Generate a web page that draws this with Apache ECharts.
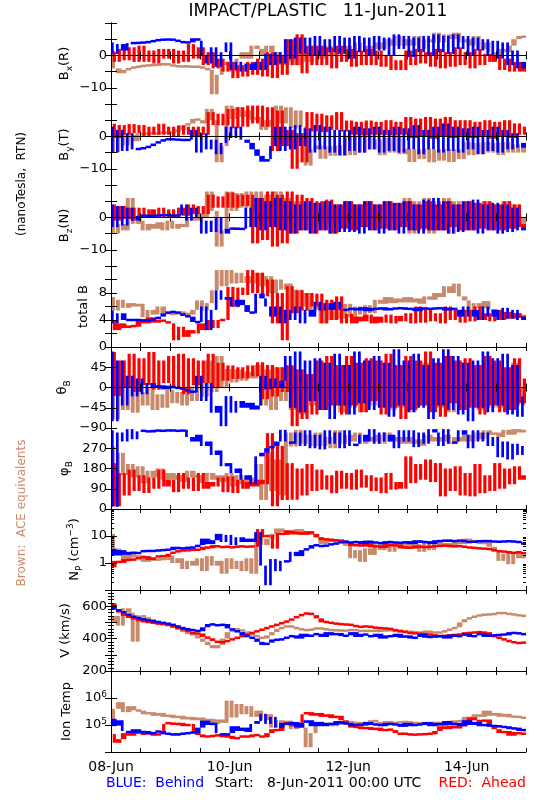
<!DOCTYPE html>
<html><head><meta charset="utf-8">
<script src="https://cdn.jsdelivr.net/npm/echarts@6/dist/echarts.min.js"></script>
<style>html,body{margin:0;padding:0;background:#fff}#c{width:550px;height:800px}</style>
</head><body><div id="c"></div>
<script>
// time in hours since 8-Jun-2011 00:00 UTC
const hours = [0,2,4,6,8,10,12,14,16,18,20,22,24,26,28,30,32,34,36,38,40,42,44,46,48,50,52,54,56,58,60,62,64,66,68,70,72,74,76,78,80,82,84,86,88,90,92,94,96,98,100,102,104,106,108,110,112,114,116,118,120,122,124,126,128,130,132,134,136,138,140,142,144,146,148,150,152,154,156,158,160,162,164,166,168];
const dateTicks = [0,48,96,144];
const dateLabels = ['08-Jun','10-Jun','12-Jun','14-Jun'];

// Bx (R)
const bxBlue = [4,0.5,3.5,1.5,3.8,3.8, 3.9,4.0,4.2,4.6,4.8,4.9, 4.9,4.8,4.2,4.0,4.0,5.3, 4.5,0,-2.5,2.5,-3.5,1.0, 4.0,-4.5,-2,-5,-2.5,-4.5, -2,-4.5,0.5,-3,1,-2.5, 5,-1,5.5,0.5,5.5,0, 6,0,5,1,6,0.5, 5.5,-1,6,1,5.5,0, 6,1.5,5.5,0,6.5,2, 6,-0.5,5.5,1,6,0, 6.5,1,6,0.5,6.5,2, 6,0,5.5,1.5,5,0, 4.5,-1,4,-3,1.5,-4, -2];
const bxRed = [1,-2,2,-1.5,2.5,-2, 3,-2,1.5,-2.5,2,-1, 2,-2.5,1.5,-2,3.5,-1, 2.5,-3,1,-4,-1,-5, -2,-7,-3,-6.5,-2,-6, -1,-6.5,1,-7,0,-6, 5,-3,6.5,-5.5,3,-3, 3,-3,2.5,-4,3,-2, 2,-3.5,1.5,-3,2,-3, 1.5,-3.5,0,-4.5,-1.5,-4.5, 1.5,-3,2,-2.5,1,-3.5, 2,-4,1,-3.5,2.5,-3, 1,-4,2,-3,0.5,-2, 0,-4.5,-1,-5,-2,-5, -3.5];
const bxBrown = [1.5,-4,-5.5,-4.5,-4,-3.5, -3.5,-3,-3.2,-2.8,-3,-2.5, -3,-3.2,-3.5,-3.3,-3.5,-3.5, -3.5,-4,-4.5,-12,-6,-3, -2,-5,-1,1,-1,3, 2,0,3,1,-1,-3, -2,0,-3,1,-2,0, 2,-1,3,0,2,1, 3,0,4,1,3,2, 4,2,5,3,6,3, 5,3,6,2,5,4, 7,4,6.5,5,7,4, 5,3,6,2,4,1, 0,2,1,3,5,6, 5.5];

// By (T)
const byBlue = [3,-5,2,-4.5,1,-4, -3.8,-3.5,-3,-2.2,-1.5,-1, -0.8,-1,-1,-1.2,-1,2, -5,1,-4,-1,-5.5,-2, 3,-0.5,3,-1,-2,-4, -6,-7.8,-7,-3,3,-4.5, 3,-4,3.5,-3,2.5,-5, 3.5,-4,3,-5,2,-5.8, 2,-4.5,3,-5,2.5,-4, 3,-5,2,-4.5,3,-5, 2.5,-4,3.5,-5.5,2,-4, 3,-5,4,-4.5,3,-5, 2.5,-4,3,-5.5,2,-4.5, 3,-5,2,-4,1,-3.5, -2];
const byRed = [3.9,-0.5,3.5,0.5,3.8,1, 3.5,0,3,0.5,3.9,0.5, 3,0,3.4,0.5,3,-0.2, 3,0.5,7.5,3.5,7,3.4, 8.5,2.5,9,3,9.5,4, 9.5,3,9,-4.5,8,-3, 2,-10,1,-8,7.5,1.5, 7,1.3,6.5,2,7.5,1.5, 4.9,0.5,4.5,0.3,4.9,0.5, 4.5,0.5,5,0.3,4.5,0.5, 6,-0.5,5.5,0,6,-0.7, 5.5,0,6,-0.5,5,0, 5,-0.5,4.5,0,5,-0.7, 4.5,0,5,-0.5,4,0.5, 3];
const byBrown = [1.3,-4.8,1,-2.8,0.5,-1.5, 1,0.5,1.2,0.8,1,1.2, 1,1.5,2,3.4,4,5.4, 5,4,8.5,5,-8,-3, 9.5,5.4,9,6,8,5, 6,2,5,3,9.5,4, 9,2.4,8,3,-9,-4, -2.8,-6.9,-3,-6,-2.8,-6, 0.3,-5.8,0,-5,0.3,-4, -1,-5.8,-0.5,-5,0,-5.5, -3.8,-7.9,-4,-7,-3.8,-8, -4,-7.5,-3.8,-7.9,-4,-7, -1.7,-5.8,-2,-5.5,-1.7,-5, -2,-5.8,-1.7,-5,-2.5,-5, -3];

// Bz (N)
const bzBlue = [4,-3,3.5,-2.5,3,-1, 0.5,0.6,0.4,0.5,0.6,0.8, 0.6,0.5,0.7,4,-1,3, 0,-5,-1,-4.5,0,-5, -3.5,-3.4,-3.6,-3.5,3,-3, 6,-4,5,-3,6,-4, 5,-5,4,-4,5,-5, 4.5,-4,5,-5,4,-4.5, 5,-4.5,4,-5,5,-4, 4,-5,5,-4,4.5,-5, 5,-4,4,-5,5.5,-4, 6,-4,5,-5,4,-4.5, 5,-4,5.5,-5,4,-4, 4.5,-5,4,-4.5,3,-4, -3];
const bzRed = [4,-1,3.5,-0.5,3,-1, 3,0,2.5,0.5,3,0, 2.5,0,3,0.5,4,1, 3.5,1,7,3,6.5,3, 7.7,3,7,3.5,7,-8, 6,-7,8,-9,7,-8, 8,-5,7,-4,6,-5, 5,-4,5.5,-5,4,-3.5, 5,-4,4,-3,5,-4, 4,-3.5,5,-4,4.5,-3, 5,-4,4,-3.5,5,-4, 4,-4,5,-3,4,-4, 5,-4,4.5,-3.5,5,-4, 4,-4,5,-3.5,4,-3, -2];
const bzBrown = [0,-5,-2,-4,6,-2, -1,-4,-2,-3.5,-1.5,-4, -1,-3.5,-2,-3,0,-1, 1,0,8,2,-9,-4, 8,2,7.5,3,8,2, 8,0,7,1,8,0, 6,0,5,-1,4,-2, 4,-2,3.5,-2,4,-2, 5,-3,4,-2,5,-3, 4,-3,5,-2,4,-3, 6,-5,5,-4,6,-5, 5,-4,6,-5,5,-4, 5,-3,4,-3,5,-2, 4,-3,5,-3,4,-2, 0];

// total B
const btBlue = [5.4,3.5,5,4,4,4, 4,3.9,4,4.1,4.5,5, 5.2,5.2,5,4.6,4.5,3.7, 3.7,6,2.5,5.5,8.4,7, 7.4,6,7,6.2,5.2,5, 7.9,7.2,6,4.5,6,3.5, 5.5,4,6,3.5,5.5,4.5, 6.7,5.4,6.5,5.5,6.7,5.5, 5.5,5.8,5.4,5.9,5.3,5.8, 5.5,5.9,5.4,5.8,5.6,5.9, 5.5,5.8,5.3,5.9,5.5,5.8, 5.6,5.9,5.4,5.8,5.5,4.5, 6,4.5,5.5,4,6,4.5, 5.5,4,5.8,4.2,5.5,4, 4.5];
const btRed = [4,2.5,3.5,2.8,3.2,3, 4,3.5,4.4,3.6,4,3.8, 3.5,1,3,1.5,2.5,2, 3.5,2.5,4,2.8,4,4, 8.9,5.9,8.8,7.7,11.4,8, 11,7.5,10,3.5,8,1, 9,5,8.4,5.4,8,6, 7.9,3.5,7,4,7.5,3.5, 4.9,3.5,4.5,3.8,4.8,3.5, 4.5,3.6,4.8,3.5,4.6,3.8, 5,3.5,6,3.6,5.5,3.8, 5,3.5,6,4,5.5,3.6, 5.5,3.8,6,4,5,3.8, 5.5,4,5.2,4.2,5,4.3, 4.5];
const btBrown = [7.4,5.4,7,5.8,6.5,6, 6.4,4.4,5.5,4.8,6,5, 5,4.8,5.2,5,4.8,5.5, 6.9,5.4,6.5,8.4,11.4,9, 11.4,9.4,11,9.5,10.5,9.4, 11,9,10.5,8,10,8.5, 9.4,5.4,8.5,6,8,5.5, 6.4,3.5,6,4,5.5,4.2, 6.4,4.4,6,4.8,6.2,5, 7,6.4,7.4,6.5,7.2,6.6, 7.4,6.6,7.2,6.4,7.5,7, 8,7.4,9,8,9.4,7.5, 6.9,5.4,6.5,5.8,6.8,5.5, 5.4,4.5,5.2,4.6,5,4.4, 4.8];

// theta_B
const thBlue = [80,-75,60,-40,26,-20, 20,-15,10,0,5,-4, 4,-2,0,-5,-8,-11, 26,-30,10,-56,-41,-86, -19,-56,-30,-45,-34,-49, -40,26,-4,20,0,15, 70,-45,80,-55,60,-30, 65,-50,55,-70,75,-40, 50,-60,80,-35,60,-50, 70,-45,55,-65,85,-40, 60,-55,75,-45,50,-70, 65,-40,85,-50,70,-60, 55,-75,60,-45,80,-55, 65,-40,75,-60,50,-65, -20];
const thRed = [79,-19,60,0,75,-10, 65,5,79,-5,60,10, 70,0,75,-15,65,5, 60,10,75,0,55,15, 49,19,45,20,49,25, 56,-26,50,-20,45,-10, 49,-86,40,-70,30,-60, 60,-50,70,-40,50,-60, 70,-40,55,-55,65,-30, 60,-60,75,-45,50,-70, 70,-50,60,-40,80,-55, 55,-65,70,-35,60,-50, 65,-45,50,-60,70,-40, 60,-55,45,-50,65,-35, 20];
const thBrown = [19,-71,0,-50,4,-56, -10,-40,0,-50,-15,-45, -5,-35,-10,-40,0,-30, 10,-20,60,-10,70,0, 41,11,40,15,35,20, 50,-40,40,-50,45,-30, 50,-50,40,-60,30,-40, 45,-50,55,-40,40,-55, 50,-45,40,-55,45,-40, 55,-40,45,-50,40,-45, 50,-55,45,-40,55,-50, 40,-45,50,-55,45,-40, 55,-40,50,-50,45,-45, 50,-45,40,-50,55,-40, 0];

// phi_B
const phBlue = [350,10,340,300,355,310, 345,350,340,352,345,350, 348,350,345,352,320,300, 330,280,300,240,260,190, 204,160,180,130,150,110, 234,250,270,280,300,352, 300,290,340,280,350,270, 330,265,350,290,340,270, 350,280,290,330,300,355, 290,340,300,330,270,350, 300,350,275,340,290,355, 340,280,355,290,300,350, 330,270,350,300,340,280, 320,230,300,220,290,240, 280];
const phRed = [204,12,160,60,175,80, 150,71,140,90,175,100, 130,75,160,90,140,80, 160,90,120,100,140,75, 145,71,130,90,120,100, 130,110,337,12,280,40, 204,41,180,60,200,80, 175,86,150,70,170,90, 160,86,175,95,150,80, 140,70,160,86,120,90, 234,115,200,130,220,120, 204,56,180,80,190,60, 160,56,200,70,150,80, 204,90,180,110,190,130, 150];
const phBrown = [278,130,250,150,200,140, 190,115,170,140,180,130, 160,130,150,120,170,140, 150,115,160,130,150,120, 160,100,150,110,140,120, 200,40,250,80,220,60, 340,278,352,290,330,280, 340,280,320,270,350,290, 330,300,340,290,320,300, 330,290,340,300,320,290, 320,290,310,280,330,300, 320,300,330,290,320,300, 330,300,340,310,350,330, 340,320,352,330,355,340, 352];

// N_P (cm^-3)
const npBlue = [3.4,1.9,3,2,2.6,2.2, 2.5,3,2.6,3,2.8,3.2, 3,4,3.2,3.8,3.5,4, 4.6,8,5,7,12,6, 11,4.6,9,6,8,6, 14,0.8,0.15,1.4,0.5,1.2, 1.1,2.6,1.8,3,3.4,4.6, 4.5,4,4.8,5,5.5,6.5, 6,5.5,6.5,5,6.8,5.5, 6,5,6.5,5.5,6,5.2, 6.5,5,7,5.5,6.5,5, 7,6,7.5,6,7,6.5, 6.5,5.5,6.8,6,7,6, 6.5,5.8,6.8,6,6.5,5.5, 5];
const npRed = [0.7,1.2,1.0,1.4,1.2,1.5, 1.5,1.8,1.3,1.6,1.9,1.7, 2.2,2.6,2.8,3,2.9,3.2, 3,4,3.5,4.6,3.8,4, 4,3.6,4.5,3.8,4.2,4, 18,9,11,3.4,13,11, 16,12,14,11,15,12, 9,7,8,6.5,7.5,6, 5.5,4.2,5,4,5.5,3.8, 4.5,3.6,5,4.2,4.8,3.5, 4,3.4,4.5,3.6,4.2,3.8, 4.6,4,4.8,3.8,4.5,4, 4,3.5,3.8,3.2,3.6,3, 3,2.5,2.8,2.2,2.6,2.4, 2.2];
const npBrown = [12,3.4,2,1.4,2.5,1.6, 1.9,1.1,1.6,1.2,1.5,1.3, 1.9,1,1.5,0.6,1.2,0.8, 1.5,0.5,1.8,0.8,1.2,0.4, 1.5,0.6,1.2,0.5,1.5,0.4, 11,4.6,8,12,19,14, 16,11,18,12,15,11, 9,5,8,6,7,5, 4.6,1.5,3,1.1,3.5,2, 5,3,6,2.6,5.5,3.5, 6,4,5,2.6,5.5,3, 6,4.5,5.5,4,7,5, 8,6,7,5,6,4, 2.6,1.2,2.2,0.9,2.5,1.5, 2];

// V (km/s)
const vBlue = [607,580,570,555,540,530, 525,515,510,505,500,494, 490,480,470,460,455,450, 445,470,490,485,480,490, 463,450,440,422,410,400, 380,360,375,395,390,400, 410,420,400,430,410,425, 430,410,440,420,435,415, 420,440,410,430,420,410, 430,400,420,410,430,405, 420,400,410,430,405,415, 410,420,400,425,410,420, 430,410,420,435,410,425, 415,430,420,440,430,435, 420];
const vRed = [618,580,560,540,530,520, 510,505,500,495,490,488, 480,470,460,455,440,430, 432,410,402,385,375,380, 390,400,410,420,430,440, 450,460,470,480,490,500, 510,525,540,550,560,545, 525,500,505,490,495,484, 490,480,475,470,480,465, 470,460,465,455,450,445, 440,430,435,425,430,420, 420,410,425,415,430,420, 440,430,445,435,440,420, 410,400,390,380,375,370, 380];
const vBrown = [500,540,480,587,560,381, 545,530,520,505,495,490, 480,470,455,440,430,420, 401,380,360,340,360,400, 440,460,455,445,430,420, 410,400,420,440,460,470, 480,470,460,455,450,460, 465,460,455,450,452,448, 450,455,450,445,450,445, 450,445,455,448,445,440, 440,445,435,440,445,440, 435,440,450,460,470,500, 520,530,540,545,550,548, 555,560,555,550,548,540, 540];

// Ion Temp (K)
const tiBlue = [1.7e5,0.95e5,1.5e5,0.6e5,0.5e5,0.7e5, 0.5e5,0.6e5,0.45e5,0.55e5,0.6e5,0.45e5, 0.5e5,0.4e5,0.5e5,0.45e5,0.55e5,0.5e5, 0.8e5,1.45e5,1.0e5,1.2e5,0.5e5,0.4e5, 0.5e5,0.9e5,0.6e5,0.8e5,0.55e5,1.1e5, 1.4e5,2.6e5,1.1e5,2.0e5,0.8e5,1.2e5, 1.0e5,1.3e5,0.8e5,1.2e5,1.5e5,0.9e5, 1.3e5,0.9e5,1.2e5,1.0e5,1.4e5,1.1e5, 1.2e5,0.9e5,1.1e5,0.95e5,1.3e5,1.0e5, 1.1e5,0.9e5,1.2e5,1.0e5,1.1e5,0.85e5, 1.2e5,0.9e5,1.1e5,1.0e5,1.3e5,0.9e5, 1.2e5,0.95e5,1.4e5,1.0e5,1.2e5,0.9e5, 1.5e5,1.0e5,1.3e5,0.9e5,1.1e5,0.85e5, 1.0e5,0.8e5,0.9e5,0.7e5,0.8e5,0.6e5, 0.7e5];
const tiRed = [0.46e5,0.22e5,0.3e5,0.5e5,0.4e5,0.55e5, 0.5e5,0.45e5,0.55e5,0.4e5,0.5e5,1.1e5, 1.25e5,1.0e5,1.2e5,0.9e5,1.1e5,0.5e5, 0.45e5,0.35e5,0.4e5,0.38e5,0.45e5,0.35e5, 0.4e5,0.3e5,0.35e5,0.4e5,0.35e5,0.45e5, 0.4e5,0.35e5,0.5e5,0.7e5,0.6e5,1.0e5, 1.3e5,0.9e5,1.2e5,2.5e5,3e5,2.2e5, 2.8e5,2.0e5,2.5e5,1.8e5,2.2e5,1.5e5, 1.1e5,0.8e5,0.9e5,0.7e5,0.85e5,0.65e5, 0.8e5,0.6e5,0.7e5,0.65e5,0.5e5,0.45e5, 0.5e5,0.4e5,0.48e5,0.42e5,0.5e5,0.45e5, 0.6e5,0.9e5,0.7e5,0.95e5,0.75e5,0.9e5, 1.1e5,1.9e5,1.5e5,1.3e5,1.6e5,1.0e5, 0.7e5,0.5e5,0.6e5,0.4e5,0.55e5,0.45e5, 0.5e5];
const tiBrown = [0.9e5,4e5,7e5,3e5,5e5,3.5e5, 3.4e5,2.5e5,3e5,2.2e5,2.8e5,2e5, 2.4e5,1.8e5,2.2e5,1.6e5,2e5,1.5e5, 1.9e5,1.2e5,1.7e5,1.1e5,1.6e5,1.2e5, 8e5,1.9e5,6e5,2.5e5,5e5,2e5, 3.4e5,1.5e5,2.5e5,0.8e5,1.5e5,1.0e5, 1.45e5,0.7e5,1.2e5,0.8e5,0.15e5,0.5e5, 1.3e5,1.0e5,1.2e5,0.9e5,1.3e5,1.0e5, 1.4e5,1.1e5,1.3e5,1.0e5,1.2e5,1.5e5, 1.3e5,1.0e5,1.4e5,1.1e5,1.3e5,1.2e5, 1.4e5,1.1e5,1.3e5,1.0e5,1.2e5,1.1e5, 1.3e5,1.1e5,1.4e5,1.2e5,1.5e5,1.3e5, 2.0e5,1.7e5,2.5e5,2.0e5,3.4e5,2.2e5, 2.8e5,2.0e5,2.6e5,1.9e5,2.2e5,1.8e5, 1.9e5];

// axis tick labels
const bLabels = [-10, 0];
const btLabels = [0, 4, 8];
const thLabels = [-90, -45, 0, 45];
const phLabels = [0, 90, 180, 270];
const npLabels = [1, 10];
const vLabels = [200, 400, 600];
const tiLabels = [1e5, 1e6];
const npMajor = [0.1, 1, 10, 100];
const npMinor = [0.2,0.3,0.4,0.5,0.6,0.7,0.8,0.9,2,3,4,5,6,7,8,9,20,30,40,50,60,70,80,90];
const tiMajor = [1e4, 1e5, 1e6, 1e7];

const BLUE = '#0000ff', RED = '#ff0000', BROWN = '#c98a6c';
const FONT = 'DejaVu Sans';

const rich = {
  a: {fontSize: 13, lineHeight: 18, fontFamily: FONT, color: '#000'},
  s: {fontSize: 9, lineHeight: 9, verticalAlign: 'bottom', fontFamily: FONT, color: '#000'},
  p: {fontSize: 9, lineHeight: 9, verticalAlign: 'top', fontFamily: FONT, color: '#000'}
};

const panels = [
  {name: '{a|B}{s|x}{a|(R)}', min: -15, max: 10, interval: 5, labels: bLabels, zero: true, gap: 37, d: [bxBrown, bxRed, bxBlue]},
  {name: '{a|B}{s|y}{a|(T)}', min: -15, max: 10, interval: 5, labels: bLabels, zero: true, gap: 37, d: [byBrown, byRed, byBlue]},
  {name: '{a|B}{s|z}{a|(N)}', min: -15, max: 10, interval: 5, labels: bLabels, zero: true, gap: 37, d: [bzBrown, bzRed, bzBlue]},
  {name: '{a|total B}', min: 0, max: 12, interval: 2, labels: btLabels, gap: 18, d: [btBrown, btRed, btBlue]},
  {name: '{a|θ}{s|B}', min: -90, max: 90, interval: 45, labels: thLabels, gap: 39, d: [thBrown, thRed, thBlue]},
  {name: '{a|φ}{s|B}', min: 0, max: 360, interval: 90, labels: phLabels, gap: 37, d: [phBrown, phRed, phBlue]},
  {name: '{a|N}{s|P}{a| (cm}{p|−3}{a|)}', log: true, min: 0.1, max: 100, labels: npLabels, major: npMajor, minor: npMinor, gap: 27, d: [npBrown, npRed, npBlue]},
  {name: '{a|V (km/s)}', min: 200, max: 700, interval: 100, labels: vLabels, vminor: true, gap: 36, d: [vBrown, vRed, vBlue]},
  {name: '{a|Ion Temp}', log: true, pow: true, min: 1e4, max: 1e7, labels: tiLabels, major: tiMajor, gap: 35, d: [tiBrown, tiRed, tiBlue]}
];

const TOP = 23, H = 81, LEFT = 111, W = 415;
const grids = [], xAxes = [], yAxes = [], series = [];
const line = {show: true, lineStyle: {color: '#000', width: 1}};

function fmt(v, p) {
  if (p.pow) return '{b|10}{p|' + Math.round(Math.log10(v)) + '}';
  return v < 0 ? '−' + Math.abs(v) : String(v);
}

// each 2-hour step drawn as a filled span between consecutive samples (dense-noise look);
// tall (noisy) spans only cover part of the step so the other spacecraft shows through.
function blocks(arr, color, xb, yl, z, f0, f1) {
  return {
    type: 'custom', xAxisIndex: xb, yAxisIndex: yl, silent: true, animation: false, z: z,
    data: hours.slice(0, -1).map((h, j) => [h, arr[j], hours[j + 1], arr[j + 1]]),
    encode: {x: [0, 2], y: [1, 3]},
    renderItem: function (params, api) {
      const a = api.coord([api.value(0), api.value(1)]);
      const b = api.coord([api.value(2), api.value(3)]);
      let y0 = Math.min(a[1], b[1]), y1 = Math.max(a[1], b[1]);
      if (y1 - y0 < 2.5) { const m = (y0 + y1) / 2; y0 = m - 1.25; y1 = m + 1.25; }
      const dx = b[0] - a[0];
      let x0 = a[0], w = dx + 0.6;
      if (y1 - y0 > 7) { x0 = a[0] + dx * f0; w = dx * (f1 - f0); }
      const cs = params.coordSys;
      const shape = echarts.graphic.clipRectByRect(
        {x: x0, y: y0, width: w, height: y1 - y0},
        {x: cs.x, y: cs.y, width: cs.width, height: cs.height});
      return shape ? {type: 'rect', shape: shape, style: {fill: color}} : null;
    }
  };
}

panels.forEach((p, i) => {
  grids.push({left: LEFT, top: TOP + H * i, width: W, height: H});
  const xb = xAxes.length;
  xAxes.push({
    gridIndex: i, type: 'value', min: 0, max: 168, interval: 12, position: 'bottom',
    axisLine: line, splitLine: {show: false}, z: 10,
    axisTick: {show: true, inside: true, length: 4, lineStyle: {color: '#000'}},
    axisLabel: i === panels.length - 1 ? {
      show: true, customValues: dateTicks, margin: 8, fontSize: 14, fontFamily: FONT, color: '#000',
      formatter: v => dateLabels[dateTicks.indexOf(v)]
    } : {show: false}
  });
  xAxes.push({
    gridIndex: i, type: 'value', min: 0, max: 168, interval: 12, position: 'top',
    axisLine: line, splitLine: {show: false}, z: 10,
    axisTick: {show: true, inside: true, length: 4, lineStyle: {color: '#000'}},
    axisLabel: {show: false}
  });
  const base = {gridIndex: i, type: p.log ? 'log' : 'value', min: p.min, max: p.max, splitLine: {show: false}, z: 10};
  if (!p.log) base.interval = p.interval;
  const yl = yAxes.length;
  const tick = {show: true, inside: true, length: 6, lineStyle: {color: '#000'}};
  if (p.log) tick.customValues = p.major;
  const minorTick = p.vminor ? {show: true, splitNumber: 5, length: 3, lineStyle: {color: '#000'}} : {show: false};
  yAxes.push(Object.assign({}, base, {
    position: 'left', axisLine: line, axisTick: tick, minorTick: minorTick,
    axisLabel: {show: true, customValues: p.labels, margin: 4, fontSize: 13, fontFamily: FONT, color: '#000',
      formatter: v => fmt(v, p),
      rich: {b: {fontSize: 13, lineHeight: 16, fontFamily: FONT, color: '#000'}, p: {fontSize: 9, lineHeight: 9, verticalAlign: 'top', fontFamily: FONT, color: '#000'}}},
    name: p.name, nameLocation: 'middle', nameRotate: 90, nameGap: p.gap, nameMoveOverlap: false,
    nameTextStyle: {rich: rich, fontFamily: FONT, fontSize: 13, color: '#000'}
  }));
  yAxes.push(Object.assign({}, base, {
    position: 'right', axisLine: line, axisTick: tick, minorTick: minorTick,
    axisLabel: {show: false}
  }));
  if (p.minor) {
    ['left', 'right'].forEach(pos => {
      yAxes.push(Object.assign({}, base, {
        position: pos, axisLine: {show: false},
        axisTick: {show: true, inside: true, length: 3, customValues: p.minor, lineStyle: {color: '#000'}},
        axisLabel: {show: false}
      }));
    });
  }
  if (p.zero) {
    series.push({
      type: 'line', xAxisIndex: xb, yAxisIndex: yl, data: [[0, 0], [168, 0]],
      symbol: 'none', silent: true, animation: false, z: 1,
      lineStyle: {color: '#888', type: [5, 4], width: 1}
    });
  }
  series.push(blocks(p.d[0], BROWN, xb, yl, 2, 0, 0.8));
  series.push(blocks(p.d[1], RED, xb, yl, 3, 0.35, 1.0));
  series.push(blocks(p.d[2], BLUE, xb, yl, 4, 0, 0.55));
});

const chart = echarts.init(document.getElementById('c'), null, {renderer: 'canvas'});
chart.setOption({
  backgroundColor: '#fff',
  animation: false,
  grid: grids, xAxis: xAxes, yAxis: yAxes, series: series,
  graphic: [
    {type: 'text', x: 318, y: 12, style: {text: 'IMPACT/PLASTIC   11-Jun-2011', fontSize: 17, fontFamily: FONT, fill: '#000', align: 'center', verticalAlign: 'middle'}},
    {type: 'text', x: 22, y: 184, rotation: Math.PI / 2, style: {text: '(nanoTesla,  RTN)', fontSize: 12, fontFamily: FONT, fill: '#000', align: 'center', verticalAlign: 'middle'}},
    {type: 'text', x: 22, y: 513, rotation: Math.PI / 2, style: {text: 'Brown:  ACE equivalents', fontSize: 12, fontFamily: FONT, fill: BROWN, align: 'center', verticalAlign: 'middle'}},
    {type: 'text', x: 155, y: 783, style: {text: 'BLUE:  Behind', fontSize: 14, fontFamily: FONT, fill: BLUE, align: 'center', verticalAlign: 'middle'}},
    {type: 'text', x: 318, y: 783, style: {text: 'Start:   8-Jun-2011 00:00 UTC', fontSize: 14, fontFamily: FONT, fill: '#000', align: 'center', verticalAlign: 'middle'}},
    {type: 'text', x: 526, y: 783, style: {text: 'RED:  Ahead', fontSize: 14, fontFamily: FONT, fill: RED, align: 'right', verticalAlign: 'middle'}}
  ]
});
</script>
</body></html>
